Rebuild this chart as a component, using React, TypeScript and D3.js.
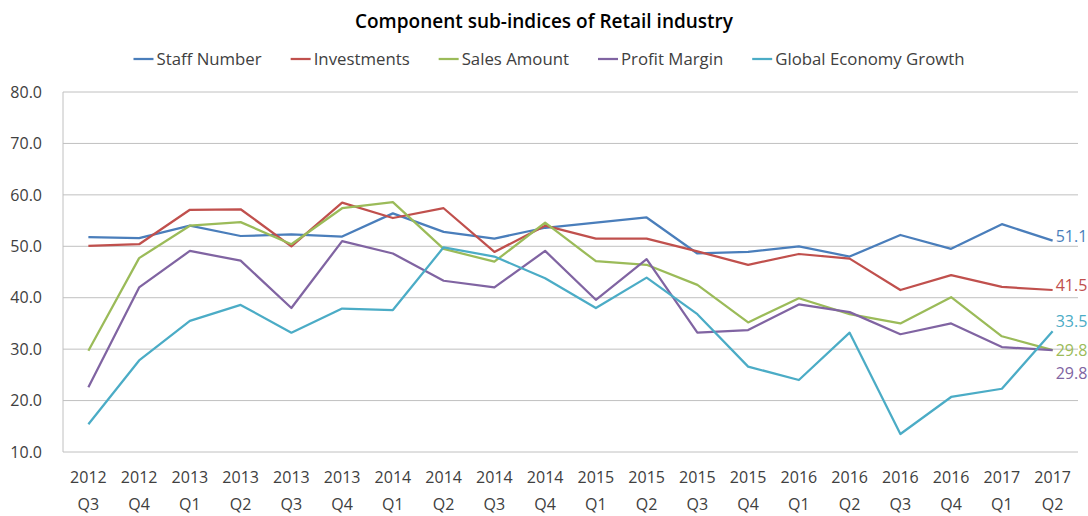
import { useEffect, useRef } from 'react';
import * as d3 from 'd3';

const quarters = [
  '2012 Q3', '2012 Q4', '2013 Q1', '2013 Q2', '2013 Q3', '2013 Q4', '2014 Q1', '2014 Q2', '2014 Q3', '2014 Q4',
  '2015 Q1', '2015 Q2', '2015 Q3', '2015 Q4', '2016 Q1', '2016 Q2', '2016 Q3', '2016 Q4', '2017 Q1', '2017 Q2',
];

const staffNumber = [51.8, 51.6, 54.0, 52.0, 52.3, 51.9, 56.4, 52.8, 51.5, 53.6, 54.6, 55.6, 48.6, 48.9, 50.0, 48.0, 52.2, 49.5, 54.3, 51.1];
const investments = [50.1, 50.4, 57.1, 57.2, 50.0, 58.5, 55.5, 57.4, 48.9, 54.0, 51.5, 51.5, 49.0, 46.4, 48.5, 47.6, 41.5, 44.4, 42.1, 41.5];
const salesAmount = [29.7, 47.7, 54.0, 54.7, 50.4, 57.4, 58.6, 49.5, 47.0, 54.6, 47.1, 46.4, 42.5, 35.2, 39.9, 36.8, 35.0, 40.1, 32.5, 29.8];
const profitMargin = [22.6, 42.0, 49.1, 47.2, 38.0, 51.0, 48.6, 43.3, 42.0, 49.1, 39.6, 47.5, 33.2, 33.7, 38.7, 37.2, 32.9, 35.0, 30.4, 29.8];
const globalGrowth = [15.4, 27.8, 35.5, 38.6, 33.2, 37.9, 37.6, 49.8, 48.0, 43.8, 38.0, 43.9, 36.8, 26.6, 24.0, 33.2, 13.5, 20.7, 22.3, 33.5];

const yTicks = [10, 20, 30, 40, 50, 60, 70, 80];

// labelDy nudges the end label off its point so the two 29.8s don't collide
const series = [
  { name: 'Staff Number', values: staffNumber, color: '#4a7ebb', labelDy: -4 },
  { name: 'Investments', values: investments, color: '#c0504d', labelDy: -5 },
  { name: 'Sales Amount', values: salesAmount, color: '#9bbb59', labelDy: 0 },
  { name: 'Profit Margin', values: profitMargin, color: '#8064a2', labelDy: 23 },
  { name: 'Global Economy Growth', values: globalGrowth, color: '#4bacc6', labelDy: -10 },
];

const W = 1088;
const H = 516;
const FONT = '"Open Sans", "Noto Sans", sans-serif';

export default function App() {
  const svgRef = useRef<SVGSVGElement>(null);

  useEffect(() => {
    document.body.style.margin = '0';
    const svg = d3.select(svgRef.current);
    svg.selectAll('*').remove();

    const x = d3.scaleBand().domain(quarters).range([63, 1078]);
    const y = d3.scaleLinear().domain([10, 80]).range([452, 92]);
    const cx = (q: string) => (x(q) || 0) + x.bandwidth() / 2;

    // gridlines
    svg.append('g')
      .selectAll('line')
      .data(yTicks)
      .join('line')
      .attr('x1', 63)
      .attr('x2', 1078)
      .attr('y1', (d) => y(d))
      .attr('y2', (d) => y(d))
      .attr('stroke', '#c0c0c0')
      .attr('stroke-width', 1);

    svg.append('line')
      .attr('x1', 63).attr('x2', 63)
      .attr('y1', y(80)).attr('y2', y(10))
      .attr('stroke', '#c0c0c0');

    // y tick labels
    svg.append('g')
      .selectAll('text')
      .data(yTicks)
      .join('text')
      .attr('x', 42)
      .attr('y', (d) => y(d))
      .attr('dy', '0.36em')
      .attr('text-anchor', 'end')
      .attr('font-family', FONT)
      .attr('font-size', 16)
      .attr('fill', '#404040')
      .text((d) => d.toFixed(1));

    // x tick labels (two lines)
    const xl = svg.append('g')
      .selectAll('text')
      .data(quarters)
      .join('text')
      .attr('text-anchor', 'middle')
      .attr('font-family', FONT)
      .attr('font-size', 16)
      .attr('fill', '#404040');
    xl.append('tspan').attr('x', (d) => cx(d)).attr('y', 483).text((d) => d.split(' ')[0]);
    xl.append('tspan').attr('x', (d) => cx(d)).attr('y', 510).text((d) => d.split(' ')[1]);

    // lines
    const line = d3.line<number>()
      .x((_, i) => cx(quarters[i]))
      .y((d) => y(d));

    series.forEach((s) => {
      svg.append('path')
        .datum(s.values)
        .attr('d', line)
        .attr('fill', 'none')
        .attr('stroke', s.color)
        .attr('stroke-width', 2.25)
        .attr('stroke-linejoin', 'round');
    });

    // end labels
    series.forEach((s) => {
      const last = s.values[s.values.length - 1];
      svg.append('text')
        .attr('x', cx(quarters[quarters.length - 1]) + 3)
        .attr('y', y(last) + s.labelDy)
        .attr('dy', '0.36em')
        .attr('font-family', FONT)
        .attr('font-size', 16)
        .attr('fill', s.color)
        .text(last.toFixed(1));
    });

    // title
    svg.append('text')
      .attr('x', W / 2)
      .attr('y', 28)
      .attr('text-anchor', 'middle')
      .attr('font-family', FONT)
      .attr('font-size', 19)
      .attr('font-weight', 600)
      .attr('fill', '#000')
      .text('Component sub-indices of Retail industry');

    // legend
    const legend = svg.append('g');
    let cursor = 0;
    series.forEach((s) => {
      const g = legend.append('g').attr('transform', `translate(${cursor},0)`);
      g.append('line')
        .attr('x1', 0).attr('x2', 20)
        .attr('y1', 59).attr('y2', 59)
        .attr('stroke', s.color)
        .attr('stroke-width', 2.25);
      const t = g.append('text')
        .attr('x', 23)
        .attr('y', 59)
        .attr('dy', '0.36em')
        .attr('font-family', FONT)
        .attr('font-size', 16.8)
        .attr('fill', '#404040')
        .text(s.name);
      const w = (t.node() as SVGTextElement).getComputedTextLength();
      cursor += 23 + w + 29;
    });
    const total = cursor - 29;
    legend.attr('transform', `translate(${549 - total / 2},0)`);
  }, []);

  return <svg ref={svgRef} width={W} height={H} style={{ display: 'block', background: '#fff' }} />;
}
